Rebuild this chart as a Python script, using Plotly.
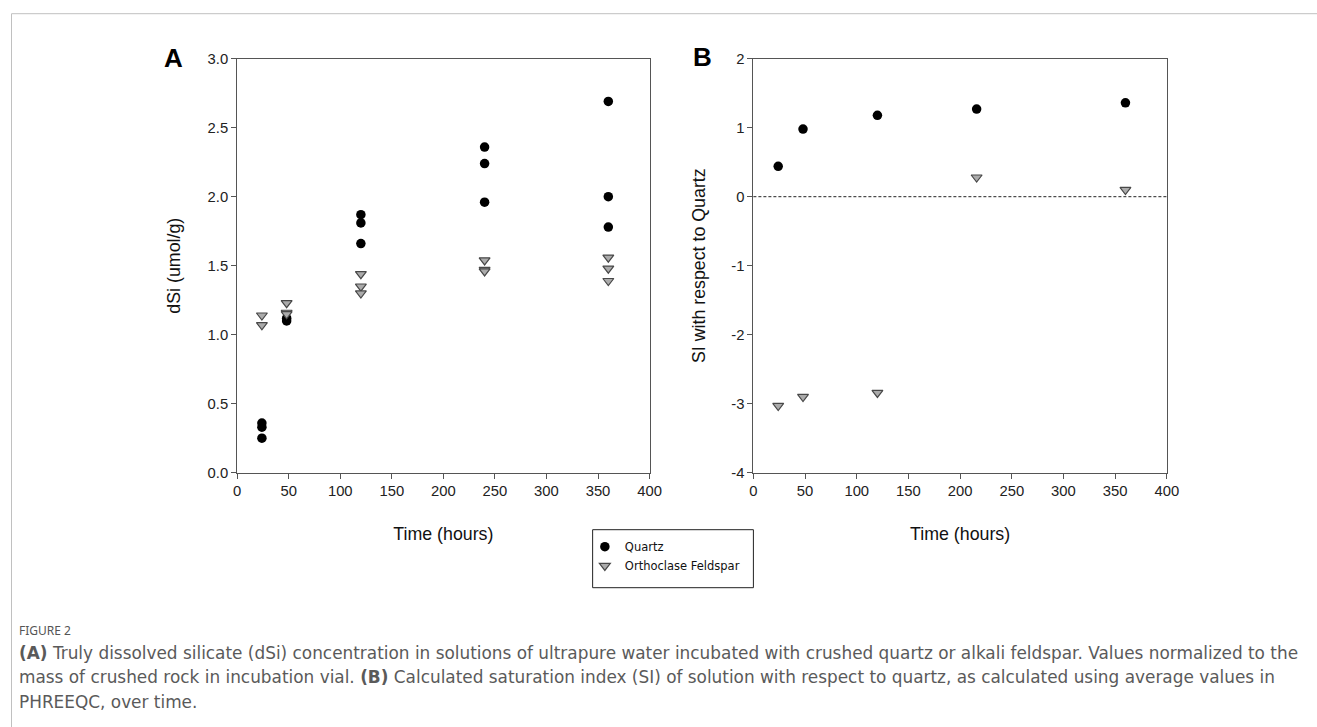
import plotly.graph_objects as go

# Panel A data: dissolved silicate (umol/g)
quartz_time_a = [24, 24, 24, 48, 48, 120, 120, 120, 240, 240, 240, 360, 360, 360]
quartz_dsi = [0.36, 0.33, 0.25, 1.10, 1.12, 1.87, 1.81, 1.66, 2.36, 2.24, 1.96, 2.69, 2.00, 1.78]
feld_time_a = [24, 24, 48, 48, 48, 120, 120, 120, 240, 240, 240, 360, 360, 360]
feld_dsi = [1.14, 1.07, 1.23, 1.16, 1.15, 1.44, 1.35, 1.30, 1.54, 1.47, 1.46, 1.56, 1.48, 1.39]

# Panel B data: saturation index with respect to quartz
si_time = [24, 48, 120, 216, 360]
quartz_si = [0.44, 0.98, 1.18, 1.27, 1.36]
feld_si = [-3.03, -2.90, -2.84, 0.28, 0.10]

x_ticks = [0, 50, 100, 150, 200, 250, 300, 350, 400]
ya_ticks = [0.0, 0.5, 1.0, 1.5, 2.0, 2.5, 3.0]
ya_labels = ["0.0", "0.5", "1.0", "1.5", "2.0", "2.5", "3.0"]
yb_ticks = [-4, -3, -2, -1, 0, 1, 2]
yb_labels = ["-4", "-3", "-2", "-1", "0", "1", "2"]

caption_head = "FIGURE 2"
caption_lines = [
    "<b>(A)</b> Truly dissolved silicate (dSi) concentration in solutions of ultrapure water incubated with crushed quartz or alkali feldspar. Values normalized to the",
    "mass of crushed rock in incubation vial. <b>(B)</b> Calculated saturation index (SI) of solution with respect to quartz, as calculated using average values in",
    "PHREEQC, over time.",
]

W, H = 1317, 727
# the photographed page appears slightly rescaled; map target screen px -> paper fraction
SX, BX = 0.9893, 2.5
SY, BY = 0.978, 7.3


def fx(X):
    return ((X - BX) / SX) / W


def fy(Y):
    return 1 - ((Y - BY) / SY) / H


q_marker = dict(symbol="circle", size=9.5, color="black", line=dict(width=0))
f_marker = dict(symbol="triangle-down", size=9.5, color="#ababab", line=dict(width=1.2, color="#484848"))

fig = go.Figure()
fig.add_trace(go.Scatter(x=quartz_time_a, y=quartz_dsi, mode="markers", marker=q_marker,
                         name="Quartz", xaxis="x", yaxis="y", legendgroup="q"))
fig.add_trace(go.Scatter(x=feld_time_a, y=feld_dsi, mode="markers", marker=f_marker,
                         name="Orthoclase Feldspar", xaxis="x", yaxis="y", legendgroup="f"))
fig.add_trace(go.Scatter(x=si_time, y=quartz_si, mode="markers", marker=q_marker,
                         name="Quartz", xaxis="x2", yaxis="y2", showlegend=False, legendgroup="q"))
fig.add_trace(go.Scatter(x=si_time, y=feld_si, mode="markers", marker=f_marker,
                         name="Orthoclase Feldspar", xaxis="x2", yaxis="y2", showlegend=False, legendgroup="f"))

tickfont = dict(family="Liberation Sans, Arial, sans-serif", size=14.8, color="#222")
titlefont = dict(family="Liberation Sans, Arial, sans-serif", size=17.8, color="#111")
axis_common = dict(showgrid=False, zeroline=False, showline=True, linecolor="#555", linewidth=1,
                   mirror=True, ticks="outside", ticklen=5, tickcolor="#555", tickfont=tickfont)

ydom = [fy(472), fy(58)]
fig.update_layout(
    width=W, height=H,
    margin=dict(l=0, r=0, t=0, b=0),
    paper_bgcolor="white", plot_bgcolor="white",
    xaxis=dict(domain=[fx(236), fx(649)], range=[0, 400], tickvals=x_ticks, anchor="y",
               title=dict(text="Time (hours)", font=titlefont, standoff=29),
               **axis_common),
    yaxis=dict(domain=ydom, range=[0, 3], tickvals=ya_ticks, ticktext=ya_labels, anchor="x",
               title=dict(text="dSi (umol/g)", font=titlefont, standoff=22),
               **axis_common),
    xaxis2=dict(domain=[fx(753), fx(1167)], range=[0, 400], tickvals=x_ticks, anchor="y2",
                title=dict(text="Time (hours)", font=titlefont, standoff=29),
                **axis_common),
    yaxis2=dict(domain=ydom, range=[-4, 2], tickvals=yb_ticks, ticktext=yb_labels, anchor="x2",
                title=dict(text="SI with respect to Quartz", font=titlefont, standoff=21),
                **axis_common),
    legend=dict(x=588 / W, y=1 - 536 / H, xanchor="left", yanchor="top",
                borderwidth=0, bgcolor="rgba(0,0,0,0)",
                font=dict(family="DejaVu Sans, Verdana, sans-serif", size=11.5, color="#111"),
                itemsizing="trace", tracegroupgap=0),
    showlegend=True,
)

# dashed zero line in panel B
fig.add_shape(type="line", xref="x2 domain", yref="y2", x0=0, x1=1, y0=0, y1=0,
              line=dict(color="#222", width=1, dash="3px,2px"))

# legend box
fig.add_shape(type="rect", xref="paper", yref="paper", x0=fx(592), x1=fx(753), y0=fy(587), y1=fy(529),
              line=dict(color="#222", width=1))

# outer frame
fig.add_shape(type="rect", xref="paper", yref="paper", x0=fx(10), x1=1.02, y0=-0.05, y1=fy(13),
              line=dict(color="#c0c0c0", width=1))

# panel letters
fig.add_annotation(text="<b>A</b>", xref="paper", yref="paper", x=fx(172), y=fy(57),
                   xanchor="center", yanchor="middle", showarrow=False,
                   font=dict(family="Liberation Sans, Arial", size=26, color="black"))
fig.add_annotation(text="<b>B</b>", xref="paper", yref="paper", x=fx(702), y=fy(56),
                   xanchor="center", yanchor="middle", showarrow=False,
                   font=dict(family="Liberation Sans, Arial", size=26, color="black"))

# caption
fig.add_annotation(text=caption_head, xref="paper", yref="paper", x=fx(16), y=fy(630),
                   xanchor="left", yanchor="middle", showarrow=False,
                   font=dict(family="Noto Sans, Open Sans, sans-serif", size=12, color="#555"))
for i, line in enumerate(caption_lines):
    fig.add_annotation(text=line, xref="paper", yref="paper", x=fx(16), y=fy(652 + 24.5 * i),
                       xanchor="left", yanchor="middle", showarrow=False,
                       font=dict(family="DejaVu Sans, sans-serif", size=16.9, color="#5a5a5a"))

fig.write_html("out.html", config={"displayModeBar": False},
               post_script="document.body.style.margin='0';document.body.style.overflow='hidden';")
